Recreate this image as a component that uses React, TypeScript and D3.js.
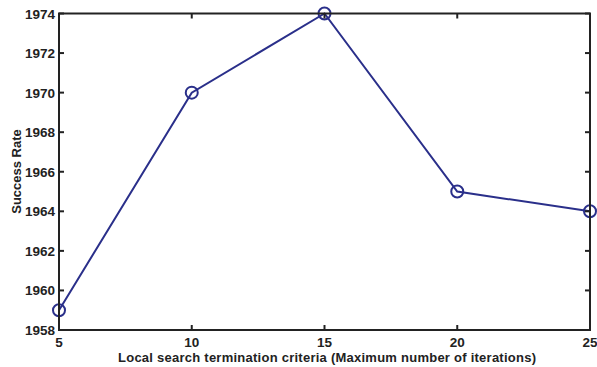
import React from "react";
import * as d3 from "d3";

const iterations = [5, 10, 15, 20, 25];
const successRate = [1959, 1970, 1974, 1965, 1964];
const xTicks = [5, 10, 15, 20, 25];
const yTicks = [1958, 1960, 1962, 1964, 1966, 1968, 1970, 1972, 1974];

const W = 597;
const H = 367;
const m = { left: 59, right: 7, top: 13.5, bottom: 37 };

export default function App() {
  const x = d3.scaleLinear().domain([5, 25]).range([m.left, W - m.right]);
  const y = d3.scaleLinear().domain([1958, 1974]).range([H - m.bottom, m.top]);
  const pts = iterations.map((v, i) => [x(v), y(successRate[i])] as [number, number]);
  const line = d3.line()(pts) || "";
  const font = "'Liberation Sans', Arial, Helvetica, sans-serif";
  const x0 = m.left, x1 = W - m.right, y0 = m.top, y1 = H - m.bottom;
  const tl = 5;
  return (
    <svg width={W} height={H} style={{ position: "absolute", left: 0, top: 0 }}>
      <rect width={W} height={H} fill="#fff" />
      <path d={line} fill="none" stroke="#2a2f8a" strokeWidth={2} />
      {pts.map((p, i) => (
        <circle key={i} cx={p[0]} cy={p[1]} r={6} fill="none" stroke="#2a2f8a" strokeWidth={2} />
      ))}
      <rect x={x0} y={y0} width={x1 - x0} height={y1 - y0} fill="none" stroke="#222" strokeWidth={2} />
      {xTicks.map((t) => (
        <g key={"x" + t}>
          <line x1={x(t)} x2={x(t)} y1={y1} y2={y1 - tl} stroke="#222" strokeWidth={2} />
          <line x1={x(t)} x2={x(t)} y1={y0} y2={y0 + tl} stroke="#222" strokeWidth={2} />
          <text x={x(t)} y={346.5} textAnchor="middle" fontFamily={font} fontWeight="bold" fontSize={13.5} fill="#222">
            {t}
          </text>
        </g>
      ))}
      {yTicks.map((t) => (
        <g key={"y" + t}>
          <line x1={x0} x2={x0 + tl} y1={y(t)} y2={y(t)} stroke="#222" strokeWidth={2} />
          <line x1={x1} x2={x1 - tl} y1={y(t)} y2={y(t)} stroke="#222" strokeWidth={2} />
          <text x={x0 - 4} y={y(t) + 5} textAnchor="end" fontFamily={font} fontWeight="bold" fontSize={13.5} fill="#222">
            {t}
          </text>
        </g>
      ))}
      <text x={327} y={361.5} textAnchor="middle" fontFamily={font} fontWeight="bold" fontSize={13} textLength={418} lengthAdjust="spacing" fill="#222">
        Local search termination criteria (Maximum number of iterations)
      </text>
      <text transform={`translate(20.5,171.5) rotate(-90)`} textAnchor="middle" fontFamily={font} fontWeight="bold" fontSize={13} fill="#222">
        Success Rate
      </text>
    </svg>
  );
}
